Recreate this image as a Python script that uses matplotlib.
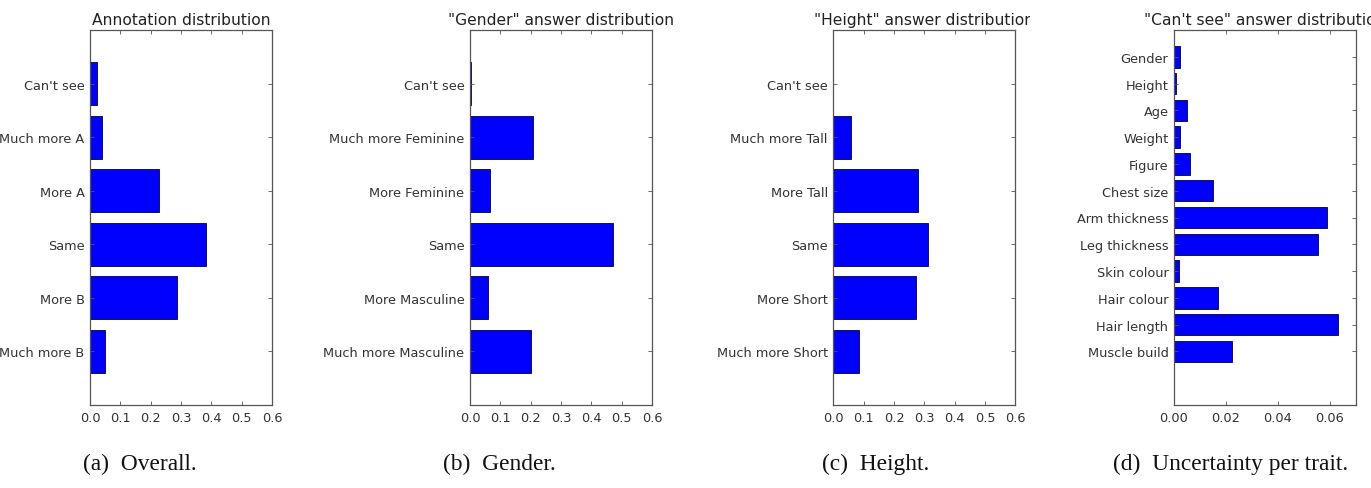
import numpy as np
import matplotlib
matplotlib.use("Agg")
import matplotlib.pyplot as plt
from matplotlib.transforms import Bbox

# data (top to bottom as displayed)
overall_labels = ["Can't see", "Much more A", "More A", "Same", "More B", "Much more B"]
overall_vals = [0.024, 0.041, 0.228, 0.382, 0.287, 0.049]

gender_labels = ["Can't see", "Much more Feminine", "More Feminine", "Same",
                 "More Masculine", "Much more Masculine"]
gender_vals = [0.003, 0.208, 0.065, 0.471, 0.060, 0.200]

height_labels = ["Can't see", "Much more Tall", "More Tall", "Same",
                 "More Short", "Much more Short"]
height_vals = [0.0, 0.057, 0.280, 0.311, 0.271, 0.086]

trait_labels = ["Gender", "Height", "Age", "Weight", "Figure", "Chest size",
                "Arm thickness", "Leg thickness", "Skin colour", "Hair colour",
                "Hair length", "Muscle build"]
trait_vals = [0.0024, 0.0006, 0.0051, 0.0023, 0.0062, 0.0151,
              0.0590, 0.0555, 0.0019, 0.0168, 0.0632, 0.0224]

titles = ["Annotation distribution", '"Gender" answer distribution',
          '"Height" answer distribution', '"Can\'t see" answer distribution']
captions = ["(a)  Overall.", "(b)  Gender.", "(c)  Height.", "(d)  Uncertainty per trait."]

txt = "#333333"
fig = plt.figure(figsize=(13.71, 4.89), dpi=100)

lefts = [90, 470, 833.3, 1174]
cap_x = [140, 499, 876, 1231]
W, H = 1371.0, 489.0

panels = [(overall_labels, overall_vals), (gender_labels, gender_vals),
          (height_labels, height_vals), (trait_labels, trait_vals)]

for i, (labels, vals) in enumerate(panels):
    ax = fig.add_axes([lefts[i] / W, 83 / H, 182 / W, 375 / H])
    n = len(labels)
    pos = np.arange(n)[::-1]
    ax.barh(pos, vals, height=0.8, color="#0000ff", edgecolor="#000040", linewidth=0.6)
    ax.set_yticks(pos)
    ax.set_yticklabels(labels, fontsize=9.3, color=txt)
    if i < 3:
        ax.set_xlim(0, 0.6)
        ax.set_xticks(np.arange(0, 0.61, 0.1))
        ax.set_xticklabels(["%.1f" % v for v in np.arange(0, 0.61, 0.1)])
        ax.set_ylim(-1, 6)
    else:
        ax.set_xlim(0, 0.07)
        ax.set_xticks([0, 0.02, 0.04, 0.06])
        ax.set_xticklabels(["0.00", "0.02", "0.04", "0.06"])
        ax.set_ylim(-2, 12)
    ax.tick_params(axis="both", direction="in", top=True, right=True,
                   length=3, width=0.6, color="#555555", labelsize=9.3,
                   labelcolor=txt, pad=4)
    for s in ax.spines.values():
        s.set_color("#555555")
        s.set_linewidth(0.9)
    t = ax.set_title(titles[i], fontsize=11.2, color="#222222", pad=4)
    if i == 2:
        # the reference crops this title where panel (d) begins
        t.set_clip_box(Bbox([[0, 0], [1030, 489]]))
        t.set_clip_on(True)
    fig.text(cap_x[i] / W, 25 / H, captions[i], family="Liberation Serif",
             fontsize=16.8, ha="center", va="center", color="#111111")

fig.savefig("out.png", dpi=100)
